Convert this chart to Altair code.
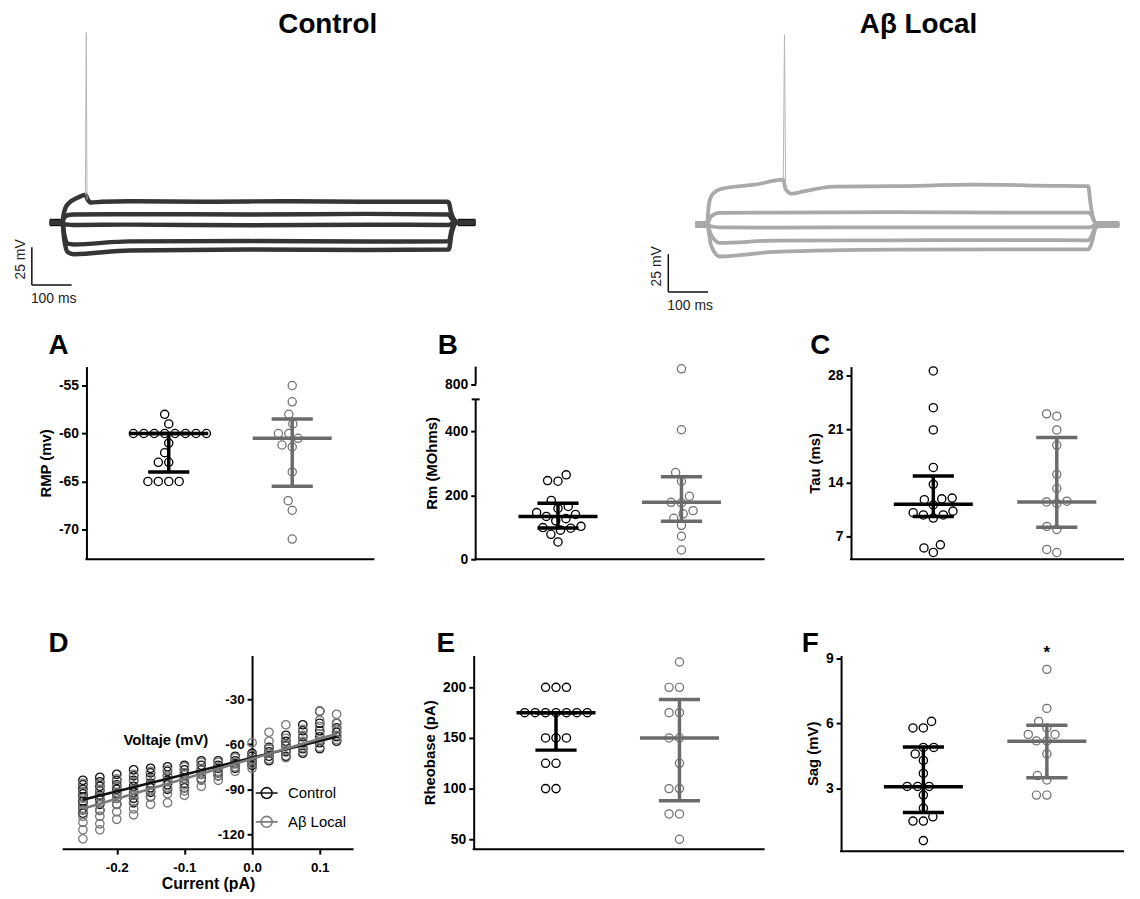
import math
import altair as alt
import pandas as pd

FONT = "Liberation Sans"
BLACK = "#000000"
GREY = "#6b6b6b"
GREY_PT = "#6e6e6e"

# ---------------- top traces (time in ms, membrane potential in mV) ----------------
CTRL1_T = [0, 32, 35, 40, 50, 70, 90, 96, 105, 130, 200, 400, 600, 800, 1000, 1005, 1010, 1018, 1030, 1072]
CTRL1_V = [-60, -60, -54.7, -50.1, -46.8, -43.6, -41.6, -44.9, -46.8, -46.2, -45.9, -46.2, -45.9, -46.2, -46.2, -46.8, -52.8, -58, -60, -60]
CTRL_STEP_T = [0, 32, 36, 45, 60, 200, 500, 800, 1005, 1012, 1025, 1072]
CTRL2_V = [-60, -60, -57, -55.2, -54.7, -54.5, -54.7, -54.3, -54.7, -57.5, -60, -60]
CTRL3_V = [-60, -60, -61, -61.4, -61.6, -61.4, -61.8, -61.5, -61.6, -60.8, -60, -60]
CTRL4_V = [-60, -60, -67, -74, -74.5, -72.5, -72.3, -72.6, -72.5, -65, -60, -60]
CTRL5_V = [-60, -60, -70, -79.5, -81, -78.5, -77.8, -78.2, -77.8, -67, -60, -60]
CTRL_SPIKE_T = [90, 92, 94]
CTRL_SPIKE_V = [-41.6, 65.7, -44.9]
CTRL_REST_T0 = [0, 1028]      # resting (pre/post step) stretches
CTRL_REST_T1 = [32, 1072]
CTRL_REST_V = -60

AB1_T = [0, 30, 34, 40, 55, 80, 150, 222, 228, 243, 270, 350, 500, 700, 900, 990, 995, 1003, 1015, 1068]
AB1_V = [-61.3, -61.3, -49.5, -42.9, -38.9, -37, -35, -31.7, -38, -40.9, -39.6, -36.3, -36, -35, -35.7, -36, -46.2, -58, -61.3, -61.3]
AB_STEP_T = [0, 30, 40, 62, 200, 500, 800, 990, 998, 1010, 1068]
AB2_V = [-61.3, -61.3, -56, -53.6, -53.4, -53.2, -53.4, -53.4, -55, -61, -61.3]
AB3_V = [-61.3, -61.3, -62.5, -63.2, -63.4, -63.2, -63.3, -63.3, -62.8, -61.5, -61.3]
AB4_V = [-61.3, -61.3, -68, -73.5, -72, -71.8, -71.6, -71.8, -69, -62, -61.3]
AB5_V = [-61.3, -61.3, -75, -82.5, -79.5, -78, -77.8, -77.8, -74, -63, -61.3]
AB_SPIKE_T = [222, 225, 228]
AB_SPIKE_V = [-31.7, 64.3, -38]
AB_REST_T0 = [0, 1010]
AB_REST_T1 = [30, 1068]
AB_REST_V = -61.3

SCALE_MS = 100
SCALE_MV = 25
CTRL_BAR = (-45, -101.4)
AB_BAR = (-67.5, -106)

# ---------------- panel data ----------------
GROUPS = ["Control", "Aβ Local"]

A_CTRL = [-58, -59, -60, -60, -60, -60, -60, -60, -60, -60, -61, -62, -63, -63, -65, -65, -65, -65]
A_AB = [-55, -56.7, -58, -59, -60, -60, -60.5, -61.4, -61.2, -64, -67, -68, -71]
A_CTRL_STATS = [-60, -64, -60]      # median, Q1, Q3
A_AB_STATS = [-60.5, -65.5, -58.5]

B_CTRL = [246, 244, 264, 165, 184, 159, 134, 140, 146, 120, 127, 103, 91, 99, 78, 97, 54]
B_AB = [850, 405, 271, 244, 197, 152, 176, 178, 142, 128, 106, 72, 29]
B_CTRL_STATS = [134, 98, 175]
B_AB_STATS = [178, 119, 258]

C_CTRL = [28.6, 23.8, 20.9, 16.0, 13.8, 12.0, 11.9, 11.8, 11.1, 10.3, 9.8, 9.4, 9.8, 10.1, 5.9, 5.5, 4.9]
C_AB = [22.7, 23.0, 20.9, 18.9, 15.1, 13.25, 11.3, 11.5, 11.6, 8.3, 7.9, 4.9, 5.3]
C_CTRL_STATS = [11.2, 9.6, 14.9]
C_AB_STATS = [11.5, 8.2, 19.9]

E_CTRL = [200, 200, 200, 175, 175, 175, 175, 175, 175, 175, 150, 150, 150, 125, 125, 100, 100]
E_AB = [225, 200, 200, 175, 175, 150, 150, 125, 100, 100, 75, 75, 50]
E_CTRL_STATS = [175, 138, 175]
E_AB_STATS = [150, 88, 188]

F_CTRL = [5.8, 5.8, 6.1, 4.9, 4.9, 4.6, 4.3, 3.7, 3.1, 3.1, 3.1, 2.7, 2.1, 1.7, 1.5, 1.5, 0.6]
F_AB = [8.5, 6.7, 6.1, 5.8, 5.5, 5.5, 5.2, 5.2, 4.6, 3.6, 3.4, 2.7, 2.7]
F_CTRL_STATS = [3.08, 1.9, 4.92]
F_AB_STATS = [5.18, 3.5, 5.92]

D_CURRENT = [-0.25, -0.225, -0.2, -0.175, -0.15, -0.125, -0.1, -0.075, -0.05, -0.025,
             0.0, 0.025, 0.05, 0.075, 0.1, 0.125]
D_CTRL = [
    [-84, -87, -90, -93, -95, -98, -100, -103, -106],
    [-82, -85, -88, -91, -94, -97, -100, -104],
    [-80, -84, -87, -90, -93, -96, -100],
    [-77, -81, -84, -88, -92, -96, -99],
    [-76, -79, -82, -86, -89, -92, -95],
    [-75, -78, -81, -84, -87, -90],
    [-74, -77, -80, -83, -86, -89],
    [-71, -74, -77, -80, -83],
    [-71, -74, -76, -79, -81],
    [-68, -71, -73, -76],
    [-66, -68, -70, -72, -74],
    [-62, -65, -68, -71],
    [-54, -58, -61, -65, -68],
    [-47, -51, -55, -59, -63, -66],
    [-38, -46, -51, -55, -59, -63],
    [-46, -49, -52, -55, -58],
]
D_AB = [
    [-86, -92, -96, -100, -104, -108, -112, -117, -123],
    [-86, -90, -95, -99, -104, -108, -113, -117],
    [-83, -88, -92, -96, -100, -105, -110],
    [-80, -85, -90, -94, -98, -103, -107],
    [-78, -83, -87, -91, -95, -100],
    [-77, -81, -85, -89, -93, -99],
    [-75, -79, -83, -87, -91, -94],
    [-72, -76, -80, -84, -88],
    [-72, -75, -78, -81, -84],
    [-69, -72, -75, -78],
    [-59, -67, -70, -73, -76],
    [-52, -58, -63, -66, -70],
    [-47, -56, -60, -64, -69],
    [-50, -54, -58, -62, -65],
    [-38, -44, -48, -53, -57, -62],
    [-40, -46, -50, -54, -57],
]
D_FIT_X = [-0.25, 0.125]
D_FIT_CTRL = [-97, -55]
D_FIT_AB = [-103, -53]

PPU_X = 82.9  # pixels per group unit on the dot-plot x scales
DOT_D = 10.5  # dot diameter used for the beeswarm spreading
MS_PX = 0.4   # pixels per ms on the trace panels


def swarm(vals, ppu_y, d=DOT_D):
    n = len(vals)
    order = sorted(range(n), key=lambda i: vals[i])
    placed, off = [], [0.0] * n
    for i in order:
        y = vals[i] * ppu_y
        cands = [0.0]
        for xo, yo in placed:
            dy = abs(y - yo)
            if dy < d:
                dx = math.sqrt(d * d - dy * dy)
                cands += [xo + dx, xo - dx]
        cands.sort(key=lambda c: (round(abs(c), 6), c))
        for c in cands:
            if all((c - xo) ** 2 + (y - yo) ** 2 >= d * d - 1e-6 for xo, yo in placed):
                off[i] = c
                break
        placed.append((off[i], y))
    return off


def letter_layer(letter, lx, ly):
    return alt.Chart(pd.DataFrame({"t": [letter]})).mark_text(
        font=FONT, fontSize=28, fontWeight="bold", align="center", baseline="middle", color="black"
    ).encode(text="t:N", x=alt.value(lx), y=alt.value(ly))


def spacer(w=1, h=1):
    return alt.Chart(pd.DataFrame({"z": [0]})).mark_point(opacity=0).encode(
        x=alt.X("z:Q", axis=None), y=alt.Y("z:Q", axis=None)
    ).properties(width=w, height=h)


def frame_rule(x1, x2, y1, y2):
    return alt.Chart(pd.DataFrame({"z": [0]})).mark_rule(strokeWidth=2, color="black").encode(
        x=alt.value(x1), x2=alt.value(x2), y=alt.value(y1), y2=alt.value(y2))


def dot_panel(letter, ctrl, ab, cstats, astats, ydom, yticks, ytitle, cell_w, xl, xr, height,
              letter_xy, yrange=None, star=False):
    xsc = alt.Scale(domain=[-xl / PPU_X, (cell_w - xl) / PPU_X], nice=False, zero=False)
    broken = yrange is not None
    if broken:
        ysc = alt.Scale(domain=ydom, range=yrange, nice=False, zero=False)
        ppu_y = (yrange[0] - yrange[1]) / (ydom[1] - ydom[0])
    else:
        ysc = alt.Scale(domain=ydom, nice=False, zero=False)
        ppu_y = height / (ydom[-1] - ydom[0])

    rows = []
    for grp, vals, pos in ((GROUPS[0], ctrl, 1.0), (GROUPS[1], ab, 2.5)):
        for v, o in zip(vals, swarm(vals, ppu_y)):
            rows.append({"grp": grp, "x": pos + o / PPU_X, "y": v})
    pts = pd.DataFrame(rows)
    stats = pd.DataFrame({"grp": GROUPS, "pos": [1.0, 2.5],
                          "med": [cstats[0], astats[0]], "q1": [cstats[1], astats[1]],
                          "q3": [cstats[2], astats[2]]})

    y_axis = alt.Axis(values=yticks, title=ytitle, domain=not broken, offset=-xl)
    X = lambda f: alt.X(f, scale=xsc, axis=None)
    Y = lambda f: alt.Y(f, scale=ysc, axis=y_axis)

    layers = []
    for grp, cpt, sw in ((GROUPS[0], BLACK, 1.35), (GROUPS[1], GREY_PT, 1.25)):
        layers.append(alt.Chart(pts).transform_filter(alt.datum.grp == grp).mark_point(
            shape="circle", filled=False, size=68, strokeWidth=sw, color=cpt, opacity=1
        ).encode(x=X("x:Q"), y=Y("y:Q")))
    for grp, cbar in ((GROUPS[0], BLACK), (GROUPS[1], GREY)):
        base = alt.Chart(stats).transform_filter(alt.datum.grp == grp).transform_calculate(
            xa="datum.pos - 0.48", xb="datum.pos + 0.48", ca="datum.pos - 0.25", cb="datum.pos + 0.25")
        layers.append(base.mark_rule(strokeWidth=3.5, color=cbar).encode(
            x=X("pos:Q"), y=Y("q1:Q"), y2="q3:Q"))
        layers.append(base.mark_rule(strokeWidth=3.5, color=cbar).encode(
            x=X("xa:Q"), x2="xb:Q", y=Y("med:Q")))
        layers.append(base.mark_rule(strokeWidth=3.5, color=cbar).encode(
            x=X("ca:Q"), x2="cb:Q", y=Y("q1:Q")))
        layers.append(base.mark_rule(strokeWidth=3.5, color=cbar).encode(
            x=X("ca:Q"), x2="cb:Q", y=Y("q3:Q")))
    # bottom axis line
    layers.append(frame_rule(xl - 1, xr, height, height))
    if broken:
        seg = pd.DataFrame({"y1": [ydom[0], ydom[2]], "y2": [ydom[1], ydom[3]]})
        layers.append(alt.Chart(seg).mark_rule(strokeWidth=2, color="black").encode(
            x=alt.value(xl), y=Y("y1:Q"), y2="y2:Q"))
        cap = pd.DataFrame({"yc": [ydom[1]]})
        layers.append(alt.Chart(cap).mark_rule(strokeWidth=2, color="black").encode(
            x=alt.value(xl - 4), x2=alt.value(xl + 4), y=Y("yc:Q")))
    if star:
        layers.append(alt.Chart(pd.DataFrame({"pos": [2.5], "s": ["*"]})).mark_text(
            font=FONT, fontSize=17, fontWeight="bold", color="black", baseline="middle"
        ).encode(x=X("pos:Q"), y=alt.value(-3), text="s:N"))
    layers.append(letter_layer(letter, xl + letter_xy[0], letter_xy[1]))
    return alt.layer(*layers).properties(width=cell_w, height=height)


def trace_panel(traces, spike, rest, bar, color, rest_color, line_w, t_left, cell_w, title, title_x):
    rows = []
    for name, ts, vs in traces:
        for i, (t, v) in enumerate(zip(ts, vs)):
            rows.append({"trace": name, "i": i, "t": t, "v": v})
    df = pd.DataFrame(rows)
    xsc = alt.Scale(domain=[t_left, t_left + cell_w / MS_PX], nice=False, zero=False)
    ysc = alt.Scale(domain=[-112, 72], nice=False, zero=False)
    X = lambda f: alt.X(f, scale=xsc, axis=None)
    Y = lambda f: alt.Y(f, scale=ysc, axis=None)
    r0, r1, rv = rest
    rest_l = alt.Chart(pd.DataFrame({"ta": r0, "tb": r1, "v": [rv] * len(r0)})).mark_rule(
        strokeWidth=line_w + 3, color=rest_color).encode(x=X("ta:Q"), x2="tb:Q", y=Y("v:Q"))
    lines = alt.Chart(df).mark_line(interpolate="monotone", strokeWidth=line_w, color=color).encode(
        x=X("t:Q"), y=Y("v:Q"), detail="trace:N", order="i:Q")
    sp = alt.Chart(pd.DataFrame({"t": spike[0], "v": spike[1], "i": [0, 1, 2]})).mark_line(
        strokeWidth=1, color="#b5b5b5").encode(x=X("t:Q"), y=Y("v:Q"), order="i:Q")
    t0, v0 = bar
    bars = pd.DataFrame({"ta": [t0, t0], "tb": [t0, t0 + SCALE_MS],
                         "va": [v0, v0], "vb": [v0 + SCALE_MV, v0]})
    bar_l = alt.Chart(bars).mark_rule(strokeWidth=1.5, color="#111").encode(
        x=X("ta:Q"), x2="tb:Q", y=Y("va:Q"), y2="vb:Q")
    mv = alt.Chart(pd.DataFrame({"t": [t0 - 28], "v": [v0 + 17], "s": [f"{SCALE_MV} mV"]})).mark_text(
        font=FONT, fontSize=14, angle=270, align="center", baseline="middle", color="#222"
    ).encode(x=X("t:Q"), y=Y("v:Q"), text="s:N")
    ms = alt.Chart(pd.DataFrame({"t": [t0 + 55], "v": [v0 - 9], "s": [f"{SCALE_MS} ms"]})).mark_text(
        font=FONT, fontSize=14, align="center", baseline="middle", color="#222"
    ).encode(x=X("t:Q"), y=Y("v:Q"), text="s:N")
    ttl = alt.Chart(pd.DataFrame({"s": [title]})).mark_text(
        font=FONT, fontSize=28, fontWeight="bold", align="center", baseline="middle", color="black"
    ).encode(x=alt.value(title_x), y=alt.value(2), text="s:N")
    return alt.layer(rest_l, lines, sp, bar_l, mv, ms, ttl).properties(width=cell_w, height=280)


# ---------------- panel D (I-V) ----------------
def iv_panel(cell_w, xl, height):
    vis_w = cell_w - xl
    vis_dom = [-0.28, 0.15]
    per_px = (vis_dom[1] - vis_dom[0]) / vis_w
    xsc = alt.Scale(domain=[vis_dom[0] - xl * per_px, vis_dom[1]], nice=False, zero=False)
    ysc = alt.Scale(domain=[-129.9, -0.9], nice=False, zero=False)
    yoff = -(xl + (0 - vis_dom[0]) / per_px)
    rows = []
    for grp, table in ((GROUPS[0], D_CTRL), (GROUPS[1], D_AB)):
        for cur, vals in zip(D_CURRENT, table):
            for v in vals:
                rows.append({"grp": grp, "cur": cur, "v": v})
    pts = pd.DataFrame(rows)
    fits = pd.DataFrame({"grp": [GROUPS[0]] * 2 + [GROUPS[1]] * 2,
                         "cur": D_FIT_X + D_FIT_X, "v": D_FIT_CTRL + D_FIT_AB})
    path = "M-1,0A1,1,0,1,1,1,0A1,1,0,1,1,-1,0M-2,0L2,0"
    color = alt.Color("grp:N", scale=alt.Scale(domain=GROUPS, range=["#111111", "#7a7a7a"]),
                      legend=alt.Legend(title=None, orient="none", legendX=235, legendY=131,
                                        symbolType=path, symbolSize=121, symbolStrokeWidth=1.6,
                                        symbolFillColor="transparent",
                                        labelFont=FONT, labelFontSize=15, labelFontWeight="normal",
                                        labelColor="black", labelOffset=14, rowPadding=10,
                                        padding=0))
    x_axis = alt.Axis(values=[-0.2, -0.1, 0.0, 0.1], format=".1f", title="Current (pA)",
                      titleFontSize=16, labelFontSize=13.5, titlePadding=2, labelPadding=6,
                      domain=False, titleX=xl + vis_w / 2)
    y_axis = alt.Axis(values=[-30, -60, -90, -120], title=None, offset=yoff,
                      labelFontSize=13.5, labelPadding=3)
    p = alt.Chart(pts).mark_point(shape="circle", filled=False, size=72, strokeWidth=1.3, opacity=1).encode(
        x=alt.X("cur:Q", scale=xsc, axis=x_axis), y=alt.Y("v:Q", scale=ysc, axis=y_axis), color=color)
    ln = alt.Chart(fits).mark_line(strokeWidth=2.5).encode(
        x=alt.X("cur:Q", scale=xsc, axis=x_axis), y=alt.Y("v:Q", scale=ysc, axis=y_axis),
        color=color, detail="grp:N")
    vt = alt.Chart(pd.DataFrame({"s": ["Voltaje (mV)"]})).mark_text(
        font=FONT, fontSize=15, fontWeight="bold", align="center", baseline="middle", color="black"
    ).encode(x=alt.value(141), y=alt.value(85), text="s:N")
    return alt.layer(p, ln, frame_rule(xl, cell_w, height, height), vt,
                     letter_layer("D", xl - 4, -12)).properties(width=cell_w, height=height)


# grid geometry (pixels): three panel columns with gap columns between them
W0, G1, W1, G2, W2 = 351, 100, 293, 77, 285
HA, H2, HB = 66, 194, 97

ctrl_trace = trace_panel(
    [("c1", CTRL1_T, CTRL1_V), ("c2", CTRL_STEP_T, CTRL2_V), ("c3", CTRL_STEP_T, CTRL3_V),
     ("c4", CTRL_STEP_T, CTRL4_V), ("c5", CTRL_STEP_T, CTRL5_V)],
    (CTRL_SPIKE_T, CTRL_SPIKE_V), (CTRL_REST_T0, CTRL_REST_T1, CTRL_REST_V), CTRL_BAR,
    "#353535", "#111111", 4.5, -60, W0, "Control", 304)
ab_trace = trace_panel(
    [("a1", AB1_T, AB1_V), ("a2", AB_STEP_T, AB2_V), ("a3", AB_STEP_T, AB3_V),
     ("a4", AB_STEP_T, AB4_V), ("a5", AB_STEP_T, AB5_V)],
    (AB_SPIKE_T, AB_SPIKE_V), (AB_REST_T0, AB_REST_T1, AB_REST_V), AB_BAR,
    "#a9a9a9", "#9a9a9a", 3.8, -557.5, W1, "Aβ Local", 448)

pA = dot_panel("A", A_CTRL, A_AB, A_CTRL_STATS, A_AB_STATS, [-73.1, -53.03],
               [-55, -60, -65, -70], "RMP (mv)", W0, 61, W0, H2, (-28, -21))
pB = dot_panel("B", B_CTRL, B_AB, B_CTRL_STATS, B_AB_STATS, [0, 500, 800, 857],
               [0, 200, 400, 800], "Rm (MOhms)", W1, 2, W1, H2, (-28, -21), yrange=[194, 33, 18, 0])
pC = dot_panel("C", C_CTRL, C_AB, C_CTRL_STATS, C_AB_STATS, [4.02, 29.17],
               [7, 14, 21, 28], "Tau (ms)", W2, 10, W2, H2, (-31, -21))
pD = iv_panel(330, 37, 195)
pE = dot_panel("E", E_CTRL, E_AB, E_CTRL_STATS, E_AB_STATS, [40.2, 231.4],
               [50, 100, 150, 200], "Rheobase (pA)", W1, 0, W1, 195, (-28, -12))
pF = dot_panel("F", F_CTRL, F_AB, F_CTRL_STATS, F_AB_STATS, [0.114, 9.137],
               [3, 6, 9], "Sag (mV)", W2, 0, W2, 197, (-31, -12), star=True)

cells = [
    ctrl_trace, spacer(G1), ab_trace, spacer(G2), spacer(),
    spacer(1, HA), spacer(1, HA), spacer(1, HA), spacer(1, HA), spacer(1, HA),
    pA, spacer(G1), pB, spacer(G2), pC,
    spacer(1, HB), spacer(1, HB), spacer(1, HB), spacer(1, HB), spacer(1, HB),
    pD, spacer(G1), pE, spacer(G2), pF,
]

chart = alt.concat(
    *cells, columns=5, spacing=0, bounds="flush", align="each"
).resolve_scale(color="independent").properties(
    padding={"left": 5, "top": 0, "right": 5, "bottom": 0}
).configure_axis(
    labelFont=FONT, titleFont=FONT, labelFontWeight="bold", titleFontWeight="bold",
    labelColor="black", titleColor="black", domainColor="black", tickColor="black",
    domainWidth=2, tickWidth=2, tickSize=5, grid=False, labelFontSize=14, titleFontSize=15,
    labelPadding=3, titlePadding=5, labelExpr="replace(datum.label, '\u2212', '-')"
).configure_view(stroke=None)

chart.save("out.html", embed_options={"renderer": "svg", "actions": False})
